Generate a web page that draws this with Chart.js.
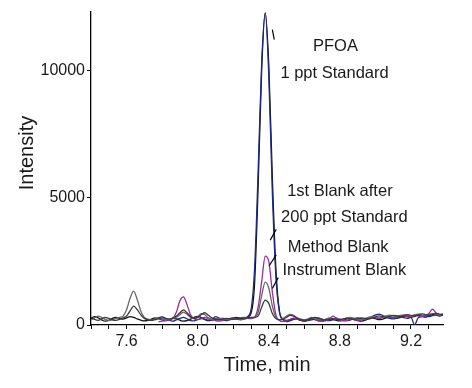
<!DOCTYPE html>
<html>
<head>
<meta charset="utf-8">
<script src="https://cdn.jsdelivr.net/npm/chart.js@4"></script>
<style>
body{margin:0;background:#fff;}
canvas{display:block;}
</style>
</head>
<body>
<canvas id="chromChart" width="472" height="388"></canvas>
<script>
// ==============================
// PFOA chromatogram (XIC overlay)
// ==============================

const times = [
7.40,7.42,7.44,7.46,7.48,7.50,7.52,7.54,7.56,7.58,
7.60,7.62,7.64,7.66,7.68,7.70,7.72,7.74,7.76,7.78,
7.80,7.82,7.84,7.86,7.88,7.90,7.92,7.94,7.96,7.98,
8.00,8.02,8.04,8.06,8.08,8.10,8.12,8.14,8.16,8.18,
8.20,8.22,8.24,8.26,8.28,8.30,8.32,8.34,8.36,8.38,
8.40,8.42,8.44,8.46,8.48,8.50,8.52,8.54,8.56,8.58,
8.60,8.62,8.64,8.66,8.68,8.70,8.72,8.74,8.76,8.78,
8.80,8.82,8.84,8.86,8.88,8.90,8.92,8.94,8.96,8.98,
9.00,9.02,9.04,9.06,9.08,9.10,9.12,9.14,9.16,9.18,
9.20,9.22,9.24,9.26,9.28,9.30,9.32,9.34,9.36,9.38
]

// 1 ppt standard (black trace)
const std1Black = [
250,330,280,200,150,180,260,300,260,230,
280,330,300,240,190,160,180,230,280,250,
200,170,210,260,240,190,150,170,230,300,
340,290,220,170,190,240,230,190,180,230,
280,300,260,250,300,450,1600,5400,10000,12250,
10200,5800,2200,550,230,180,200,260,230,180,
150,190,240,210,170,160,200,250,220,180,
160,200,240,260,210,170,150,190,240,280,
250,210,230,280,320,290,260,300,350,330,
300,340,380,350,310,360,420,390,350,400
]

// 1 ppt standard (navy trace)
const std1Navy = [
null,null,null,null,null,null,null,null,null,null,
null,null,null,null,null,null,null,null,200,280,
320,250,180,150,200,260,300,240,170,160,
210,250,230,190,200,330,280,200,170,210,
250,230,200,240,330,600,2200,6000,10300,12250,
9800,5200,1900,500,200,130,170,220,260,230,
190,170,200,230,250,210,180,170,200,240,
230,190,170,200,250,280,250,210,260,330,
400,430,380,300,260,240,280,320,290,260,
300,0,280,330,360,330,370,400,380,420
]

// 1st blank after 200 ppt standard
const blankAfter200 = [
null,null,null,null,null,null,null,null,null,null,
null,null,null,null,null,null,null,null,null,120,
150,180,200,250,500,950,1100,800,400,250,
220,260,300,250,200,170,150,180,220,260,
280,250,220,230,260,250,300,700,1700,2700,
2500,1300,400,180,140,160,220,270,230,190,
170,200,280,230,160,140,170,220,350,280,
200,160,180,240,210,180,200,230,260,300,
280,250,300,340,310,280,330,380,360,330,
350,400,360,330,380,450,620,480,380,450
]

// method blank
const methodBlank = [
200,280,350,300,220,180,210,260,300,350,
600,1050,1330,1000,550,300,230,200,240,260,
230,200,220,260,300,400,500,420,300,250,
320,450,400,280,220,200,240,270,230,200,
230,260,280,300,290,280,300,500,1150,1680,
1450,750,300,200,260,350,420,380,280,220,
200,240,300,260,220,200,230,280,260,220,
200,230,280,300,260,230,210,250,300,330,
300,280,320,360,390,350,320,370,400,380,
350,390,430,400,360,410,450,420,380,430
]

// instrument blank
const instrumentBlank = [
300,220,180,240,300,260,200,180,220,280,
350,550,740,600,400,260,200,180,210,250,
280,260,230,280,350,480,590,480,330,260,
300,400,480,380,280,220,200,230,260,240,
220,250,270,260,280,300,300,350,700,980,
850,450,250,200,230,300,380,350,260,200,
180,210,260,300,280,230,200,220,250,230,
210,240,260,240,220,250,280,260,240,270,
320,360,330,300,340,380,360,330,370,410,
380,350,400,440,410,380,420,460,430,400
]

const xTicks = [7.4,7.5,7.6,7.7,7.8,7.9,8.0,8.1,8.2,8.3,8.4,8.5,8.6,8.7,8.8,8.9,9.0,9.1,9.2,9.3]
const xLabelled = [7.6,8.0,8.4,8.8,9.2]
const yTicks = [0,5000,10000]

// annotation texts [label, time, intensity]
const notes = [
["PFOA",8.775,10930],
["1 ppt Standard",8.77,9880],
["1st Blank after",8.80,5230],
["200 ppt Standard",8.825,4225],
["Method Blank",8.79,3060],
["Instrument Blank",8.825,2130]
]

// leader ticks [t1,v1,t2,v2]
const leaders = [
[8.420,11590,8.431,11200],
[8.408,3330,8.442,3760],
[8.402,2325,8.442,2750],
[8.420,1430,8.453,1860]
]

const FONT = "'Liberation Sans', Arial, sans-serif"
const INK = "#1a1a1a"

function toXY(xs,ys){
return xs.map((x,i)=>({x:x,y:ys[i]}))
}

function trace(data,color){
return {
data:toXY(times,data),
borderColor:color,
borderWidth:1.3,
pointRadius:0,
fill:false,
spanGaps:false,
cubicInterpolationMode:"monotone"
}
}

// Notes plugin

const notesPlugin = {
id:"notes",
afterDatasetsDraw(chart){
const ctx = chart.ctx
const xs = chart.scales.x
const ys = chart.scales.y
ctx.save()
ctx.fillStyle = INK
ctx.font = "16.5px " + FONT
ctx.textAlign = "center"
ctx.textBaseline = "middle"
notes.forEach(n=>{
ctx.fillText(n[0],xs.getPixelForValue(n[1]),ys.getPixelForValue(n[2]))
})
ctx.strokeStyle = "#000"
ctx.lineWidth = 1.2
leaders.forEach(l=>{
ctx.beginPath()
ctx.moveTo(xs.getPixelForValue(l[0]),ys.getPixelForValue(l[1]))
ctx.lineTo(xs.getPixelForValue(l[2]),ys.getPixelForValue(l[3]))
ctx.stroke()
})
// y title
ctx.font = "20px " + FONT
ctx.translate(27,ys.getPixelForValue(6750))
ctx.rotate(-Math.PI/2)
ctx.fillText("Intensity",0,0)
ctx.restore()
}
}

const chromChart = new Chart(document.getElementById("chromChart"),{

type:"line",

data:{
datasets:[
trace(instrumentBlank,"#3a3a3a"),
trace(methodBlank,"#666666"),
trace(blankAfter200,"#9b2a9b"),
trace(std1Navy,"#1f2a80"),
trace(std1Black,"#111111")
]
},

options:{
responsive:false,
animation:false,
events:[],
layout:{padding:{left:0,right:29,top:8,bottom:0}},
plugins:{
legend:{display:false},
tooltip:{enabled:false}
},
scales:{
x:{
type:"linear",
min:7.4,
max:9.38,
afterBuildTicks(scale){
scale.ticks = xTicks.map(v=>({value:v}))
},
afterFit(scale){ scale.height = 63 },
border:{color:"#000",width:1.3},
grid:{drawOnChartArea:false,drawTicks:true,tickLength:4,color:"#000",lineWidth:1},
ticks:{
autoSkip:false,
maxRotation:0,
padding:3,
color:INK,
font:{family:FONT,size:16},
callback:(v)=>xLabelled.some(t=>Math.abs(t-v)<1e-6) ? v.toFixed(1) : ""
},
title:{
display:true,
text:"Time, min",
color:INK,
font:{family:FONT,size:20},
padding:{top:0,bottom:11}
}
},
y:{
min:0,
max:12300,
afterBuildTicks(scale){
scale.ticks = yTicks.map(v=>({value:v}))
},
afterFit(scale){ scale.width = 91 },
border:{color:"#000",width:1.3},
grid:{drawOnChartArea:false,drawTicks:true,tickLength:4,color:"#000",lineWidth:1},
ticks:{
padding:2,
color:INK,
font:{family:FONT,size:16},
callback:(v)=>String(v)
}
}
}
},

plugins:[notesPlugin]

})
</script>
</body>
</html>
